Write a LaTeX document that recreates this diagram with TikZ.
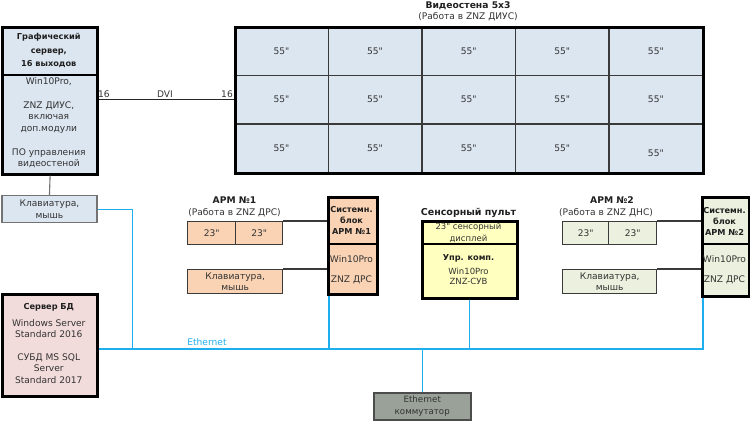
\documentclass[tikz,border=0pt]{standalone}
\usepackage{fontspec}
\newfontfamily\dv{DejaVu Sans}
\definecolor{blu}{HTML}{DCE6F1}
\definecolor{pch}{HTML}{FAD3B4}
\definecolor{grn}{HTML}{EBF1DE}
\definecolor{pnk}{HTML}{F2DCDB}
\definecolor{ylw}{HTML}{FFFFC0}
\definecolor{gry}{HTML}{99A198}
\definecolor{ethc}{HTML}{1EAEEE}
\definecolor{txtc}{HTML}{333333}
\definecolor{dk}{HTML}{3A3A3A}
\tikzset{
  bigbox/.style={draw=black, line width=2.6pt, anchor=north west, inner sep=0pt},
  thinbox/.style={draw=dk, line width=1.3pt, anchor=north west, inner sep=0pt},
  cell/.style={draw=dk, line width=1.3pt, fill=blu, anchor=north west, minimum width=93.6pt, minimum height=48.67pt, inner sep=0pt},
  txt/.style={font=\dv\fontsize{9.1}{11.7}\selectfont, text=txtc, align=center, inner sep=0pt},
  stxt/.style={font=\dv\fontsize{8.5}{10}\selectfont, text=txtc, align=center, inner sep=0pt},
  bld/.style={font=\dv\bfseries\fontsize{8.2}{11}\selectfont, text=black!88, align=center, inner sep=0pt},
  ttl/.style={font=\dv\bfseries\fontsize{9.2}{11}\selectfont, text=black!88, align=center, inner sep=0pt},
  divl/.style={draw=black, line width=1.3pt},
  conn/.style={draw=dk, line width=1.1pt},
  dvil/.style={draw=black!85, line width=1.3pt},
  eth/.style={draw=ethc, line width=1.3pt},
}
\begin{document}
\begin{tikzpicture}[x=1pt,y=-1pt]
\useasboundingbox (0,0) rectangle (750,421);

% ---------- Graphics server ----------
\node[bigbox, fill=blu, minimum width=95pt, minimum height=147pt] (gs) at (1.3,26) {};
\draw[divl] (gs.west |- 0,75) -- (gs.east |- 0,75);
\node[bld, font=\dv\bfseries\fontsize{8.2}{13.5}\selectfont] (gst) at (48.8,50.5) {Графический\\сервер,\\16 выходов};
\node[txt] (gsb) at (48.8,123) {Win10Pro,\\[11.7pt]ZNZ ДИУС,\\включая\\доп.модули\\[11.7pt]ПО управления\\видеостеной};

\node[thinbox, draw=black!55, fill=blu, minimum width=95pt, minimum height=27pt, txt] (kb1) at (1.3,195) {Клавиатура,\\мышь};
\draw[draw=black!55, line width=1.1pt] (gs.south) -- (kb1.north);

% ---------- Video wall ----------
\node[ttl] (wt) at (468,6) {Видеостена 5х3};
\node[txt] (ws) at (468,17) {(Работа в ZNZ ДИУС)};
\foreach \i in {0,...,4}{
  \foreach \j in {0,1,2}{
    \node[cell] (c\i\j) at ({234+\i*93.6},{26+\j*48.67}) {};
    \pgfmathsetmacro\dy{(\i==4 && \j==2) ? 5 : 0}
    \node[txt] at ([yshift=-\dy pt]c\i\j.center) {55"};
  }
}
\node[bigbox, minimum width=468pt, minimum height=146pt] (wall) at (234,26) {};

% DVI link
\draw[dvil] (c01.west -| gs.east) -- (c01.west);
\node[txt, anchor=south] (l16a) at (104,98) {16};
\node[txt, anchor=south] (ldvi) at (165,98) {DVI};
\node[txt, anchor=south] (l16b) at (227,98) {16};

% ---------- ARM 1 ----------
\node[ttl] (a1t) at (234.5,200) {АРМ №1};
\node[txt] (a1s) at (234.5,213) {(Работа в ZNZ ДРС)};
\node[thinbox, fill=pch, minimum width=48pt, minimum height=23pt, txt] (m11) at (187,221) {23"};
\node[thinbox, fill=pch, minimum width=47pt, minimum height=23pt, txt] (m12) at (235,221) {23"};
\node[thinbox, fill=pch, minimum width=95pt, minimum height=24pt, txt] (kb2) at (187,269) {Клавиатура,\\мышь};
\node[bigbox, fill=pch, minimum width=49pt, minimum height=97pt] (sb1) at (327,196) {};
\draw[divl] (sb1.west |- 0,244) -- (sb1.east |- 0,244);
\node[bld] (sb1t) at (351.5,220) {Системн.\\блок\\АРМ №1};
\node[txt] (sb1b) at (351.5,270) {Win10Pro\\[8.3pt]ZNZ ДРС};
\draw[conn] (m12.north east) -- (m12.north east -| sb1.west);
\draw[conn] (kb2.north east) -- (kb2.north east -| sb1.west);

% ---------- Sensor panel ----------
\node[ttl, font=\dv\bfseries\fontsize{9.5}{11}\selectfont] (spt) at (468.5,213) {Сенсорный пульт};
\node[bigbox, fill=ylw, minimum width=95pt, minimum height=77pt] (sp) at (421,220) {};
\draw[divl] (sp.west |- 0,244) -- (sp.east |- 0,244);
\node[stxt, font=\dv\fontsize{8.5}{12.5}\selectfont] (spa) at (468.5,233) {23" сенсорный\\дисплей};
\node[bld] (spb) at (468.5,258) {Упр. комп.};
\node[stxt] (spc) at (468.5,276.5) {Win10Pro\\ZNZ-СУВ};

% ---------- ARM 2 ----------
\node[ttl] (a2t) at (612,200) {АРМ №2};
\node[txt] (a2s) at (606,213) {(Работа в ZNZ ДНС)};
\node[thinbox, fill=grn, minimum width=46pt, minimum height=23pt, txt] (m21) at (562,221) {23"};
\node[thinbox, fill=grn, minimum width=48pt, minimum height=23pt, txt] (m22) at (608,221) {23"};
\node[thinbox, fill=grn, minimum width=94pt, minimum height=24pt, txt] (kb3) at (562,269) {Клавиатура,\\мышь};
\node[bigbox, fill=grn, minimum width=47pt, minimum height=99pt] (sb2) at (701,196) {};
\draw[divl] (sb2.west |- 0,244) -- (sb2.east |- 0,244);
\node[bld] (sb2t) at (724.5,221.5) {Системн.\\блок\\АРМ №2};
\node[txt] (sb2b) at (724.5,270) {Win10Pro\\[8.3pt]ZNZ ДРС};
\draw[conn] (m22.north east) -- (m22.north east -| sb2.west);
\draw[conn] (kb3.north east) -- (kb3.north east -| sb2.west);

% ---------- DB server ----------
\node[bigbox, fill=pnk, minimum width=95pt, minimum height=102pt] (db) at (1.3,293) {};
\node[bld] (dbt) at (48.8,307) {Сервер БД};
\node[txt, font=\dv\fontsize{9.1}{11.4}\selectfont] (dbb) at (48.8,351.5) {Windows Server\\Standard 2016\\[11.4pt]СУБД MS SQL\\Server\\Standard 2017};

% ---------- Switch ----------
\node[thinbox, draw=black!70, line width=1.5pt, fill=gry, minimum width=97pt, minimum height=27pt, stxt, font=\dv\fontsize{8.7}{12}\selectfont] (sw) at (373,392) {Ethernet\\коммутатор};

% ---------- Ethernet ----------
\coordinate (bus) at (0,349);
\coordinate (p1) at ([xshift=2pt]sb1.south west);
\coordinate (p2) at ([xshift=2pt]sb2.south west);
\coordinate (k1) at ([xshift=35pt]kb1.east);
\draw[eth] (bus -| db.east) -| (p2);
\draw[eth] (kb1.east) -| (k1 |- bus);
\draw[eth] (p1) -- (p1 |- bus);
\draw[eth] (sp.south) -- (sp.south |- bus);
\draw[eth] (sw.north) -- (sw.north |- bus);
\node[txt, text=ethc] (ethl) at (207,342) {Ethernet};
\end{tikzpicture}
\end{document}
